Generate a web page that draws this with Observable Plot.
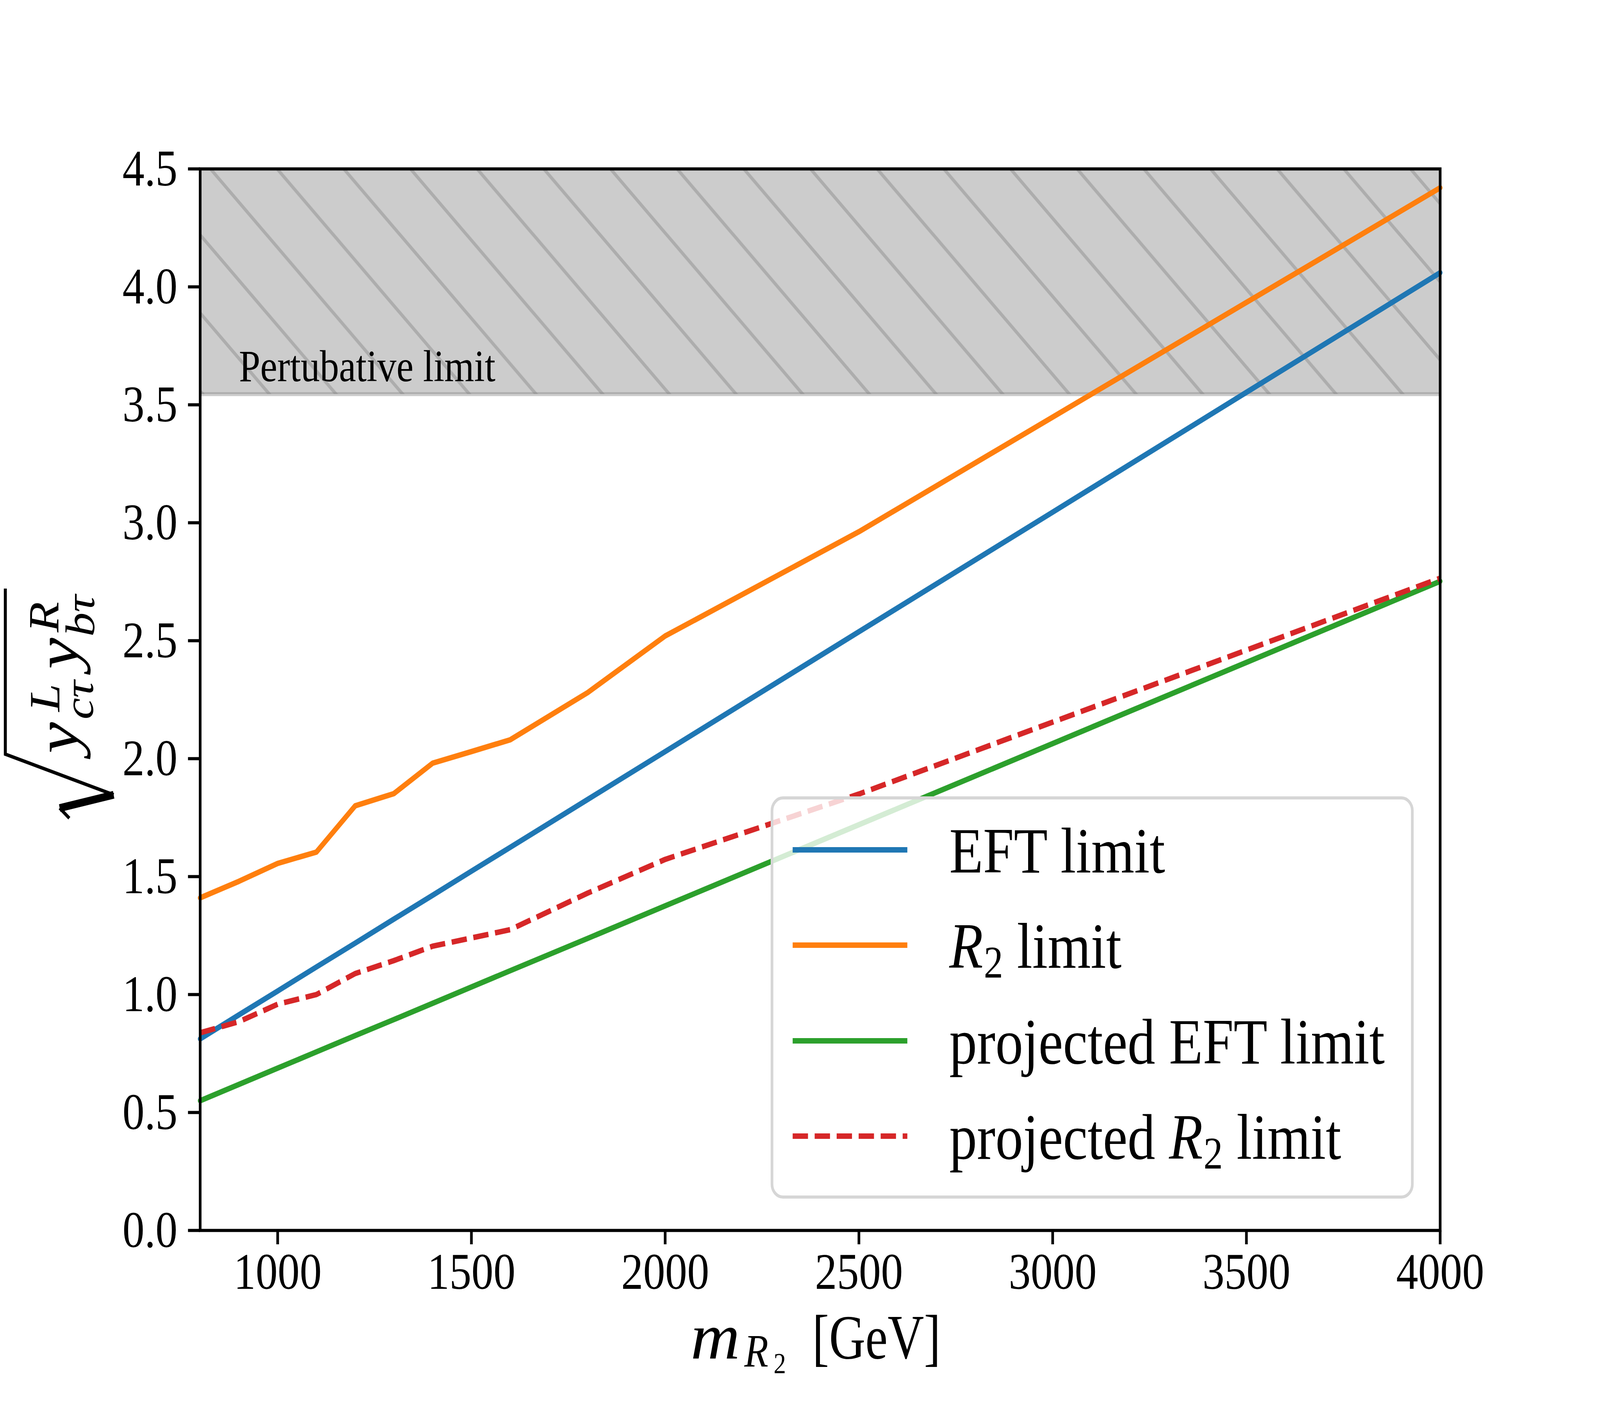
<!DOCTYPE html>
<html><head><meta charset="utf-8">
<script src="https://cdn.jsdelivr.net/npm/d3@7"></script>
<script src="https://cdn.jsdelivr.net/npm/@observablehq/plot@0.6"></script>
<style>html,body{margin:0;padding:0;background:#fff;overflow:hidden;} svg{display:block}</style>
</head><body><div id="chart"></div>
<script>
// ---- data ----
const masses     = [800, 900, 1000, 1100, 1200, 1300, 1400, 1500, 1600, 1800, 2000, 2500, 3000, 3500, 4000];
const eftLimit   = [0.812, 0.914, 1.015, 1.117, 1.218, 1.320, 1.421, 1.523, 1.624, 1.827, 2.030, 2.538, 3.045, 3.553, 4.060];
const r2Limit    = [1.41, 1.48, 1.556, 1.604, 1.80, 1.852, 1.981, 2.03, 2.08, 2.28, 2.52, 2.962, 3.448, 3.934, 4.42];
const projEft    = [0.550, 0.619, 0.688, 0.757, 0.826, 0.894, 0.963, 1.032, 1.101, 1.238, 1.376, 1.720, 2.064, 2.408, 2.752];
const projR2     = [0.838, 0.885, 0.959, 1.000, 1.089, 1.144, 1.205, 1.24, 1.275, 1.43, 1.573, 1.85, 2.155, 2.46, 2.765];
const xTicks     = [1000, 1500, 2000, 2500, 3000, 3500, 4000];
const yTicks     = [0, 0.5, 1, 1.5, 2, 2.5, 3, 3.5, 4, 4.5];
const xDomain    = [800, 4000];
const yDomain    = [0, 4.5];
const pertLimit  = 3.545;
const pertLabel  = [{x: 900, y: 3.6, text: "Pertubative limit"}];
const seriesNames  = ["EFT limit", "R2 limit", "projected EFT limit", "projected R2 limit"];
const seriesColors = ["#1f77b4", "#ff7f0e", "#2ca02c", "#d62728"];

const seriesValues = [eftLimit, r2Limit, projEft, projR2];
const table = seriesNames.flatMap((s, i) => masses.map((m, j) => ({series: s, m, v: seriesValues[i][j]})));
const band = [{x1: xDomain[0], x2: xDomain[1], y1: pertLimit, y2: yDomain[1]}];

const FONT = "'Liberation Serif', 'DejaVu Serif', serif";
const LW = 14;
const lineMark = (i, extra = {}) => Plot.line(table.filter(d => d.series === seriesNames[i]),
  {x: "m", y: "v", stroke: seriesColors[i], strokeWidth: LW, strokeLinejoin: "round", ...extra});

const plot = Plot.plot({
  width: 4800, height: 3600,
  marginLeft: 600, marginRight: 480, marginTop: 432, marginBottom: 450,
  style: {fontFamily: FONT, fontSize: "132px", background: "white"},
  x: {domain: xDomain},
  y: {domain: yDomain},
  marks: [
    Plot.rect(band, {x1: "x1", x2: "x2", y1: "y1", y2: "y2", fill: "#808080", fillOpacity: 0.4}),
    Plot.rect(band, {x1: "x1", x2: "x2", y1: "y1", y2: "y2", fill: "url(#hatch)"}),
    Plot.ruleY([pertLimit], {stroke: "#808080", strokeOpacity: 0.4, strokeWidth: 10}),
    Plot.text(pertLabel, {x: "x", y: "y", text: "text", textAnchor: "start", lineAnchor: "bottom", fontSize: 115, fill: "black"}),
    lineMark(0),
    lineMark(1),
    lineMark(2),
    lineMark(3, {strokeDasharray: "46,20", strokeLinecap: "butt"}),
    Plot.frame({stroke: "black", strokeWidth: 8}),
    Plot.axisX({ticks: xTicks, tickSize: 36, tickPadding: 20, tickFormat: d3.format("d"), strokeWidth: 8, fontSize: 132, label: null}),
    Plot.axisY({ticks: yTicks, tickSize: 36, tickPadding: 32, tickFormat: d3.format(".1f"), strokeWidth: 8, fontSize: 132, label: null})
  ]
});
// fill the browser window exactly (the window may be narrower than 4800)
plot.setAttribute("preserveAspectRatio", "none");
plot.style.width = "100vw";
plot.style.height = "100vh";
plot.style.maxWidth = "none";
document.getElementById("chart").appendChild(plot);

const svg = d3.select(plot);
// hatch pattern
const defs = svg.insert("defs", ":first-child");
const pat = defs.append("pattern").attr("id", "hatch").attr("patternUnits", "userSpaceOnUse")
  .attr("width", 200).attr("height", 200).attr("patternTransform", "translate(199,0)");
pat.append("path").attr("d", "M0,0L200,200M-20,180L20,220M180,-20L220,20")
  .attr("stroke", "#808080").attr("stroke-opacity", 0.4).attr("stroke-width", 9).attr("fill", "none");

// legend
const lg = svg.append("g").attr("font-family", FONT).attr("text-anchor", "start");
lg.append("rect").attr("x", 2316).attr("y", 2043).attr("width", 1921).attr("height", 1022).attr("rx", 33)
  .attr("fill", "white").attr("fill-opacity", 0.8).attr("stroke", "#d6d6d6").attr("stroke-width", 8);
const rowY = [2176, 2420, 2665, 2909];
rowY.forEach((y, i) => {
  const l = lg.append("line").attr("x1", 2378).attr("x2", 2722).attr("y1", y).attr("y2", y)
    .attr("stroke", seriesColors[i]).attr("stroke-width", LW);
  if (i === 3) l.attr("stroke-dasharray", "46,20");
});
function legendText(y, parts) {
  const t = lg.append("text").attr("x", 2848).attr("y", y + 58).attr("font-size", 166);
  parts.forEach(p => {
    const s = t.append("tspan").text(p.t);
    if (p.it) s.attr("font-style", "italic");
    if (p.sub) s.attr("font-size", 116).attr("dy", 25);
    if (p.up) s.attr("dy", -25);
    if (p.dx) s.attr("dx", p.dx);
  });
}
legendText(rowY[0], [{t: "EFT limit"}]);
legendText(rowY[1], [{t: "R", it: true}, {t: "2", sub: true, dx: 2}, {t: " limit", up: true}]);
legendText(rowY[2], [{t: "projected EFT limit"}]);
legendText(rowY[3], [{t: "projected "}, {t: "R", it: true}, {t: "2", sub: true, dx: 2}, {t: " limit", up: true}]);

// x label: one text element, pieces positioned with tspans
const XB = 3478;
const xl = svg.append("text").attr("font-family", FONT).attr("text-anchor", "start").attr("font-size", 167);
xl.append("tspan").attr("x", 2072).attr("y", XB).attr("font-size", 168).attr("font-style", "italic")
  .attr("textLength", 148).attr("lengthAdjust", "spacingAndGlyphs").text("m");
xl.append("tspan").attr("x", 2233).attr("y", XB + 21).attr("font-size", 118).attr("font-style", "italic").text("R");
xl.append("tspan").attr("x", 2321).attr("y", XB + 38).attr("font-size", 74).text("2");
xl.append("tspan").attr("x", 2437).attr("y", XB).attr("font-size", 162)
  .attr("textLength", 385).attr("lengthAdjust", "spacingAndGlyphs").text("[GeV]");

// y label (rotated): one text element with positioned tspans, plus the radical sign
const yg = svg.append("g").attr("transform", "translate(233,1800) rotate(-90)");
const yl = yg.append("text").attr("font-family", FONT).attr("text-anchor", "start").attr("font-style", "italic");
const ypieces = [
  {u: -129, v: 0, s: "y", f: 180},
  {u: -22, v: -55, s: "L", f: 128},
  {u: -42, v: 46, s: "cτ", f: 124},
  {u: 87, v: 0, s: "y", f: 180},
  {u: 181, v: -57, s: "R", f: 128},
  {u: 170, v: 50, s: "bτ", f: 124}
];
ypieces.forEach(p => yl.append("tspan").attr("x", p.u).attr("y", p.v).attr("font-size", p.f).text(p.s));
yg.append("path").attr("d", "M-295,-25L-269,-54M-235,108L-131,-217L293,-217")
  .attr("stroke", "black").attr("stroke-width", 9).attr("fill", "none");
yg.append("path").attr("d", "M-269,-54L-235,108")
  .attr("stroke", "black").attr("stroke-width", 20).attr("fill", "none");
</script>
</body></html>
